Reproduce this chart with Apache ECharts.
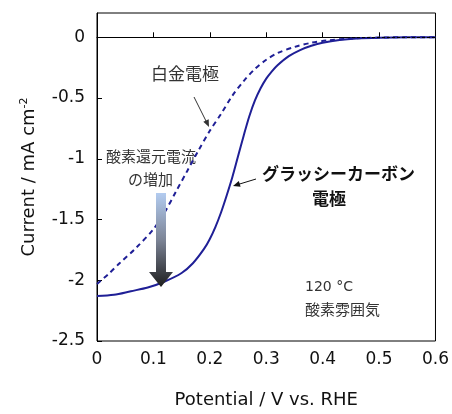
<!DOCTYPE html>
<html>
<head>
<meta charset="utf-8">
<script src="https://cdn.jsdelivr.net/npm/echarts@6/dist/echarts.min.js"></script>
<style>
  html, body { margin: 0; padding: 0; background: #fff; }
  #chart { width: 452px; height: 414px; }
</style>
</head>
<body>
<div id="chart"></div>
<script>
// glassy carbon electrode (solid)
const gcPotential = [0, 0.03, 0.06, 0.09, 0.12, 0.15, 0.17, 0.19, 0.2, 0.21, 0.22, 0.23, 0.24, 0.25, 0.26, 0.27, 0.28, 0.29, 0.3, 0.31, 0.32, 0.34, 0.36, 0.38, 0.4, 0.43, 0.46, 0.5, 0.55, 0.6]
const gcCurrent = [-2.13, -2.12, -2.09, -2.06, -2.01, -1.94, -1.86, -1.74, -1.66, -1.56, -1.44, -1.3, -1.15, -0.98, -0.81, -0.65, -0.52, -0.42, -0.34, -0.28, -0.23, -0.155, -0.105, -0.07, -0.045, -0.022, -0.01, -0.003, 0, 0]

// platinum electrode (dashed)
const ptPotential = [0, 0.02, 0.04, 0.07, 0.1, 0.12, 0.14, 0.16, 0.18, 0.2, 0.22, 0.24, 0.26, 0.28, 0.3, 0.32, 0.35, 0.38, 0.41, 0.45, 0.5, 0.55, 0.6]
const ptCurrent = [-2.03, -1.95, -1.86, -1.73, -1.58, -1.44, -1.27, -1.1, -0.93, -0.77, -0.63, -0.48, -0.36, -0.26, -0.185, -0.13, -0.08, -0.045, -0.025, -0.01, -0.002, 0, 0]

const latin = '"DejaVu Sans", sans-serif'
const jp = '"Noto Sans CJK JP", sans-serif'
const lineColor = '#1f1f96'

function pairs(xs, ys) {
  return xs.map((x, i) => [x, ys[i]])
}

const chart = echarts.init(document.getElementById('chart'))

chart.setOption({
  animation: false,
  grid: {
    left: 97,
    right: 15,
    top: 13,
    bottom: 66,
    show: true,
    borderColor: '#000',
    borderWidth: 1
  },
  xAxis: {
    type: 'value',
    min: 0,
    max: 0.6,
    interval: 0.1,
    name: 'Potential / V vs. RHE',
    nameLocation: 'middle',
    nameGap: 50,
    nameTextStyle: { fontFamily: latin, fontSize: 18, color: '#111' },
    axisLine: { lineStyle: { color: '#000', width: 1 } },
    axisTick: { inside: true, length: 5, lineStyle: { color: '#000' } },
    axisLabel: { fontFamily: latin, fontSize: 17, color: '#111', margin: 10 },
    splitLine: { show: false }
  },
  yAxis: {
    type: 'value',
    min: -2.5,
    max: 0.2,
    interval: 0.5,
    name: 'Current / mA cm{sup|-2}',
    nameLocation: 'middle',
    nameGap: 58,
    nameRotate: 90,
    nameTextStyle: {
      fontFamily: latin,
      fontSize: 18,
      color: '#111',
      rich: {
        sup: { fontFamily: latin, fontSize: 11, color: '#111', verticalAlign: 'top', padding: [0, 0, 9, 0] }
      }
    },
    axisLine: { lineStyle: { color: '#000', width: 1 } },
    axisTick: { inside: true, length: 5, lineStyle: { color: '#000' } },
    axisLabel: { fontFamily: latin, fontSize: 17, color: '#111', margin: 12, showMaxLabel: false },
    splitLine: { show: false }
  },
  series: [
    {
      name: '白金電極',
      type: 'line',
      data: pairs(ptPotential, ptCurrent),
      smooth: 0.3,
      showSymbol: false,
      lineStyle: { color: lineColor, width: 2, type: [5, 4] },
      markLine: {
        silent: true,
        symbol: 'none',
        label: { show: false },
        lineStyle: { color: '#000', width: 1, type: [3, 2] },
        data: [{ yAxis: 0 }]
      },
      z: 3
    },
    {
      name: 'グラッシーカーボン電極',
      type: 'line',
      data: pairs(gcPotential, gcCurrent),
      smooth: 0.3,
      showSymbol: false,
      lineStyle: { color: lineColor, width: 2 },
      z: 4
    }
  ],
  graphic: [
    { type: 'text', left: 151, top: 65, style: { text: '白金電極', font: '17px ' + jp, fill: '#333' } },
    { type: 'line', shape: { x1: 194, y1: 97, x2: 207, y2: 123 }, style: { stroke: '#333', lineWidth: 1 } },
    { type: 'polygon', shape: { points: [[209, 127], [203.3, 121.8], [208.7, 119.3]] }, style: { fill: '#333' } },

    { type: 'text', left: 106, top: 149, style: { text: '酸素還元電流', font: '15px ' + jp, fill: '#333' } },
    { type: 'text', left: 128, top: 172, style: { text: 'の増加', font: '15px ' + jp, fill: '#333' } },
    {
      type: 'polygon',
      shape: { points: [[156, 193], [166, 193], [166, 272], [173, 272], [161, 287], [149, 272], [156, 272]] },
      style: {
        fill: new echarts.graphic.LinearGradient(0, 0, 0, 1, [
          { offset: 0, color: '#b3ccf0' },
          { offset: 0.5, color: '#7c8496' },
          { offset: 1, color: '#1e1e1e' }
        ])
      },
      z: 10
    },

    { type: 'text', left: 262, top: 165, style: { text: 'グラッシーカーボン', font: 'bold 17px ' + jp, fill: '#111' } },
    { type: 'text', left: 312, top: 190, style: { text: '電極', font: 'bold 17px ' + jp, fill: '#111' } },
    { type: 'line', shape: { x1: 256, y1: 179, x2: 238, y2: 184.5 }, style: { stroke: '#111', lineWidth: 1 } },
    { type: 'polygon', shape: { points: [[233, 186], [238.8, 181], [240.6, 186.7]] }, style: { fill: '#111' } },

    { type: 'text', left: 305, top: 280, style: { text: '120 °C', font: '14px ' + latin, fill: '#333' } },
    { type: 'text', left: 305, top: 302, style: { text: '酸素雰囲気', font: '15px ' + jp, fill: '#333' } }
  ]
})
</script>
</body>
</html>
